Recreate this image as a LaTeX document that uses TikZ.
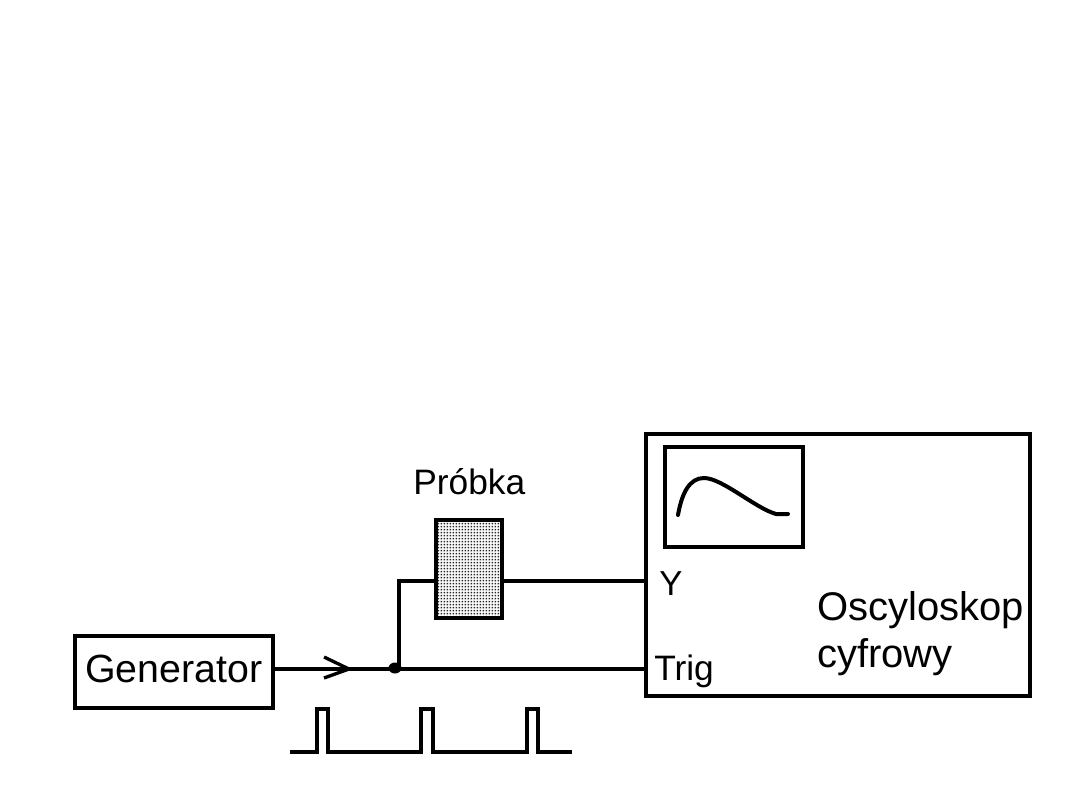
\documentclass[tikz,border=0pt]{standalone}
\usepackage{fontspec}
\setmainfont{Liberation Sans}
\usetikzlibrary{patterns}
\pgfdeclarepatternformonly{samplegrain}{\pgfqpoint{0pt}{0pt}}{\pgfqpoint{2pt}{2pt}}{\pgfqpoint{2pt}{2pt}}{%
  \pgfpathrectangle{\pgfqpoint{0.5pt}{0.5pt}}{\pgfqpoint{1.2pt}{1.2pt}}%
  \pgfusepath{fill}}
\tikzset{
  x=0.75pt,y=-0.75pt,
  wire/.style={line width=2.5pt,black,line join=miter},
  boxed/.style={draw=black,line width=2.5pt,fill=none,inner sep=0pt,minimum width=0pt},
  label/.style={inner sep=0pt,anchor=base west,text=black},
}
\begin{document}
\begin{tikzpicture}
  \useasboundingbox (0,0) rectangle (1080,810);

  % Pulse generator
  \draw[boxed] (75,636) rectangle (273,708);
  \coordinate (genout) at (273,669);
  \node[label,font=\fontsize{29.5pt}{34pt}\selectfont] (gentext) at (85,682) {Generator};

  % Sample holder
  \draw[wire,line width=2.8pt,pattern=samplegrain,pattern color=black!85] (436,520) rectangle (502,618);
  \coordinate (samplein) at (436,581);
  \coordinate (sampleout) at (502,581);
  \node[label,font=\fontsize{26.5pt}{32pt}\selectfont] (sampletext) at (413,494) {Próbka};

  % Digital oscilloscope
  \draw[boxed] (646,434) rectangle (1030,696);
  \draw[boxed] (665,447) rectangle (803,547);
  \coordinate (yin) at (646,581);
  \coordinate (trigin) at (646,669);
  \node[label,font=\fontsize{26pt}{32pt}\selectfont] (ytext) at (659,595) {Y};
  \node[label,font=\fontsize{26.5pt}{32pt}\selectfont] (trigtext) at (654,680) {Trig};
  \node[label,font=\fontsize{30pt}{36pt}\selectfont] (osctext) at (817,620) {Oscyloskop};
  \node[label,font=\fontsize{30pt}{36pt}\selectfont] (cyftext) at (817,667) {cyfrowy};

  % Trace on the screen
  \draw[wire,line width=3pt,line cap=round] (678,515) .. controls (682,492) and (690,478) .. (704,478)
     .. controls (722,478) and (755,508) .. (776,514) -- (788,514);

  % Connections
  \coordinate (junction) at (397,669);
  \draw[wire] (genout) -- (trigin);
  \draw[wire] (junction) ++(2,0) |- (samplein);
  \draw[wire] (sampleout) -- (yin);
  \fill[black] (395,668) ellipse[x radius=6.5,y radius=5.5];

  % Open arrowhead on the line
  \coordinate (tip) at (349,669);
  \draw[wire] (324,657) -- (tip) -- (324,678);

  % Pulse train
  \coordinate (ps) at (290,752);
  \coordinate (pe) at (572,752);
  \draw[wire] (ps) -- (317,752) -- (317,709) -- (328,709) -- (328,752)
     -- (421,752) -- (421,709) -- (433,709) -- (433,752)
     -- (527,752) -- (527,709) -- (538,709) -- (538,752) -- (pe);
\end{tikzpicture}
\end{document}
